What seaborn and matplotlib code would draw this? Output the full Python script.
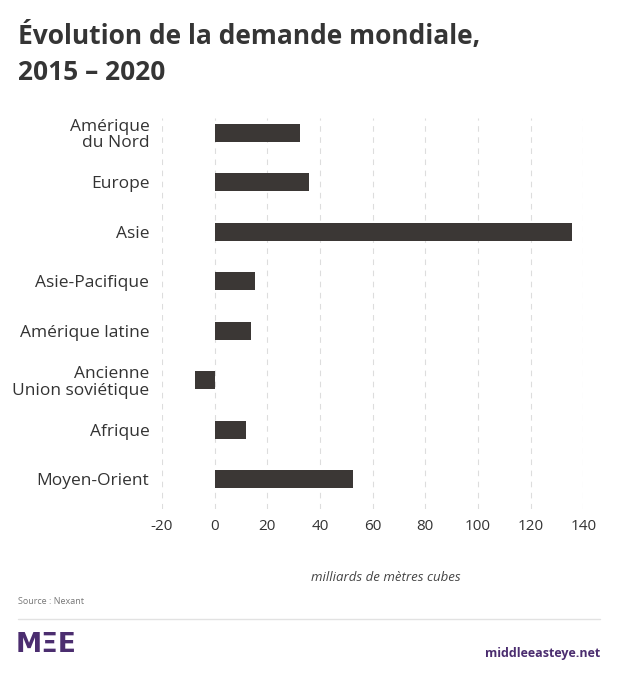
import pandas as pd
import seaborn as sns
import matplotlib.pyplot as plt
from matplotlib.lines import Line2D

regions = ["Amérique\ndu Nord", "Europe", "Asie", "Asie-Pacifique",
           "Amérique latine", "Ancienne\nUnion soviétique", "Afrique", "Moyen-Orient"]
demand = [32.3, 36.0, 135.7, 15.4, 14.0, -7.5, 11.8, 52.7]
x_ticks = [-20, 0, 20, 40, 60, 80, 100, 120, 140]

df = pd.DataFrame({"region": regions, "demand": demand})

sns.set_theme(style="white")
plt.rcParams["font.family"] = ["Open Sans", "DejaVu Sans"]

fig = plt.figure(figsize=(6.2, 6.74), dpi=100)
ax = fig.add_axes([0.261, 0.245, 0.68, 0.58])

sns.barplot(data=df, x="demand", y="region", color="#3b3735", width=0.36,
            saturation=1, linewidth=0, ax=ax, zorder=3)

ax.set_xlim(-20, 140)
ax.set_ylim(7.6, -0.3)
ax.set_xticks(x_ticks)
ax.set_xticklabels([str(t) for t in x_ticks], fontsize=11, color="#333333")
ax.tick_params(axis="y", labelsize=12.5, colors="#333333", length=0, pad=9)
for lab in ax.get_yticklabels():
    lab.set_multialignment("right")
    lab.set_linespacing(1.05)
ax.tick_params(axis="x", length=0, pad=7)
ax.xaxis.grid(True, linestyle=(0, (5, 5)), color="#dddddd", linewidth=0.8, zorder=0)
ax.yaxis.grid(False)
for s in ax.spines.values():
    s.set_visible(False)
ax.set_ylabel("")
ax.set_xlabel("milliards de mètres cubes", fontsize=9.5, style="italic",
              color="#444444", labelpad=18)
ax.xaxis.set_label_coords(0.532, -0.16)

fig.text(0.029, 0.968, "Évolution de la demande mondiale,\n2015 – 2020",
         fontsize=19, fontweight="bold", color="#353535", va="top", linespacing=1.45)
fig.text(0.029, 0.108, "Source : Nexant", fontsize=6.5, color="#777777", va="center")
fig.add_artist(Line2D([0.029, 0.968], [0.082, 0.082], color="#e2e2e2",
                      linewidth=1, transform=fig.transFigure))
fig.text(0.026, 0.043, "MΞE", fontsize=19, fontweight="bold", color="#4b2d6f",
         va="center", family=["DejaVu Sans"])
fig.text(0.968, 0.031, "middleeasteye.net", fontsize=9, fontweight="bold",
         color="#4b2d6f", ha="right", va="center")

fig.savefig("out.png", dpi=100, facecolor="white")
